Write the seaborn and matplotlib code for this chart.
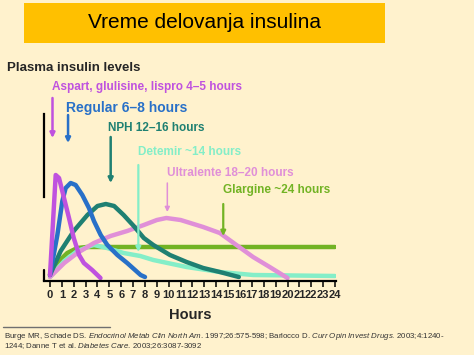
import pandas as pd
import matplotlib.pyplot as plt
import seaborn as sns

# values (hours, relative plasma level)
aspart_h = [0, 0.48, 0.76, 1.18, 1.6, 2.0, 2.45, 2.85, 3.55, 4.25]
aspart_lv = [3, 103, 100, 80, 60, 40, 23, 15, 8, 0]

regular_h = [0, 0.62, 1.04, 1.32, 1.74, 2.16, 2.72, 3.28, 3.7, 4.27, 4.83, 5.67, 6.5, 7.63, 8.0]
regular_lv = [3, 43, 77, 90, 95, 93, 83, 70, 57, 43, 33, 23, 15, 3, 1]

nph_h = [0, 0.9, 2.0, 3.15, 4.0, 4.7, 5.4, 6.2, 7.05, 7.9, 8.7, 10.1, 11.5, 12.9, 14.3, 15.9]
nph_lv = [3, 27, 47, 63, 72, 74, 72, 63, 52, 40, 33, 23, 16, 10, 6, 1]

detemir_h = [0, 1.2, 2.3, 3.4, 3.7, 4.8, 6.2, 7.6, 8.7, 11.5, 14.3, 17.1, 24]
detemir_lv = [1, 17, 27, 32, 33, 30, 25, 22, 18, 11, 6, 3, 2]

ultralente_h = [0, 1.2, 2.3, 3.7, 5.1, 6.5, 7.9, 9.0, 9.8, 11.0, 12.9, 14.3, 15.7, 17.1, 18.5, 20.0]
ultralente_lv = [1, 15, 25, 35, 42, 47, 53, 58, 60, 58, 51, 45, 33, 21, 11, 0]

glargine_h = [0, 0.6, 1.45, 2.3, 3.1, 24]
glargine_lv = [3, 15, 25, 30, 31, 31]

insulins = ["Glargine", "Detemir", "Ultralente", "NPH", "Regular", "Aspart"]
labels = {
    "Aspart": "Aspart, glulisine, lispro 4–5 hours",
    "Regular": "Regular 6–8 hours",
    "NPH": "NPH 12–16 hours",
    "Detemir": "Detemir ~14 hours",
    "Ultralente": "Ultralente 18–20 hours",
    "Glargine": "Glargine ~24 hours",
}
hour_ticks = list(range(0, 25))

colors = {
    "Aspart": "#BF52DF",
    "Regular": "#2870C8",
    "NPH": "#1F8072",
    "Detemir": "#84EEC8",
    "Ultralente": "#E08FD8",
    "Glargine": "#72B324",
}

frames = []
for name, h, lv in [("Aspart", aspart_h, aspart_lv), ("Regular", regular_h, regular_lv),
                    ("NPH", nph_h, nph_lv), ("Detemir", detemir_h, detemir_lv),
                    ("Ultralente", ultralente_h, ultralente_lv), ("Glargine", glargine_h, glargine_lv)]:
    frames.append(pd.DataFrame({"hours": h, "level": lv, "insulin": name}))
df = pd.concat(frames, ignore_index=True)

sns.set_theme(style="white")
plt.rcParams['font.family'] = ['Liberation Sans', 'DejaVu Sans']
plt.rcParams['mathtext.fontset'] = 'custom'
plt.rcParams['mathtext.rm'] = 'Liberation Sans'
plt.rcParams['mathtext.it'] = 'Liberation Sans:italic'

bg = "#FFF2CD"
fig = plt.figure(figsize=(4.74, 3.55), dpi=100, facecolor=bg)
ax = fig.add_axes([44 / 474, 74 / 355, 292 / 474, 201 / 355])
ax.set_facecolor(bg)

sns.lineplot(data=df, x="hours", y="level", hue="insulin", hue_order=insulins,
             palette=colors, estimator=None, sort=False, lw=3.2, legend=False,
             ax=ax, solid_joinstyle="round", solid_capstyle="round")

x0, x1 = -0.505, 24.084
ax.set_xlim(x0, x1)
ax.set_ylim(-3, 198)

# label + arrow placement (hours, level)
label_pos = {
    "Aspart": (0.17, 191, 8.5),
    "Regular": (1.35, 170, 10),
    "NPH": (4.88, 150, 8.5),
    "Detemir": (7.41, 126, 8.5),
    "Ultralente": (9.85, 105, 8.5),
    "Glargine": (14.57, 88, 8.5),
}
arrow_pos = {
    "Aspart": (0.21, 180, 140, 1.8),
    "Regular": (1.52, 163, 135, 1.8),
    "NPH": (5.11, 141, 95, 1.8),
    "Detemir": (7.44, 113, 26, 1.6),
    "Ultralente": (9.88, 95, 66, 1.1),
    "Glargine": (14.59, 74, 42, 1.6),
}
for name in insulins:
    lx, ly, fs = label_pos[name]
    ax.text(lx, ly, labels[name], color=colors[name], fontsize=fs, fontweight="bold",
            ha="left", va="center", clip_on=False)
    axp, top, bot, lw = arrow_pos[name]
    ax.annotate("", xy=(axp, bot), xytext=(axp, top),
                arrowprops=dict(arrowstyle="-|>", color=colors[name], lw=lw,
                                mutation_scale=7, shrinkA=0, shrinkB=0))

ax.spines["top"].set_visible(False)
ax.spines["right"].set_visible(False)
ax.spines["bottom"].set_linewidth(1.6)
ax.spines["bottom"].set_color("black")
ax.spines["left"].set_linewidth(1.6)
ax.spines["left"].set_color("black")
ax.spines["left"].set_bounds(81, 164)
ax.axvline(x0, ymin=0, ymax=11 / 201, color="black", lw=1.6, clip_on=False)

ax.set_xticks(hour_ticks)
ax.set_xticklabels([str(t) for t in hour_ticks], fontsize=8, fontweight="bold")
ax.set_yticks([])
ax.tick_params(axis="x", direction="out", length=4.5, width=1.1, color="black", pad=2,
               bottom=True)
ax.set_xlabel("Hours", fontsize=10.5, fontweight="bold", labelpad=5.5)
ax.set_ylabel("")

# title banner
fig.patches.append(plt.Rectangle((24 / 474, 1 - 43 / 355), 361 / 474, 40 / 355,
                                 transform=fig.transFigure, facecolor="#FFC000",
                                 edgecolor="none", zorder=0))
fig.text(205 / 474, 1 - 23 / 355, "Vreme delovanja insulina", fontsize=15,
         ha="center", va="center", color="black")
fig.text(7 / 474, 1 - 68 / 355, "Plasma insulin levels", fontsize=9.5,
         fontweight="bold", ha="left", va="center")

# reference footnote
fig.add_artist(plt.Line2D([3 / 474, 110 / 474], [1 - 327 / 355] * 2,
                          transform=fig.transFigure, color="#707070", lw=1))
fig.text(4 / 474, 1 - 337 / 355,
         r"Burge MR, Schade DS. $\mathit{Endocrinol\ Metab\ Clin\ North\ Am}$. "
         r"1997;26:575-598; Barlocco D. $\mathit{Curr\ Opin\ Invest\ Drugs}$. 2003;4:1240-",
         fontsize=5.7, color="#333333", ha="left", va="center")
fig.text(4 / 474, 1 - 346 / 355,
         r"1244; Danne T et al. $\mathit{Diabetes\ Care}$. 2003;26:3087-3092",
         fontsize=5.7, color="#333333", ha="left", va="center")

fig.savefig("out.png", dpi=100, facecolor=bg)
plt.close(fig)
